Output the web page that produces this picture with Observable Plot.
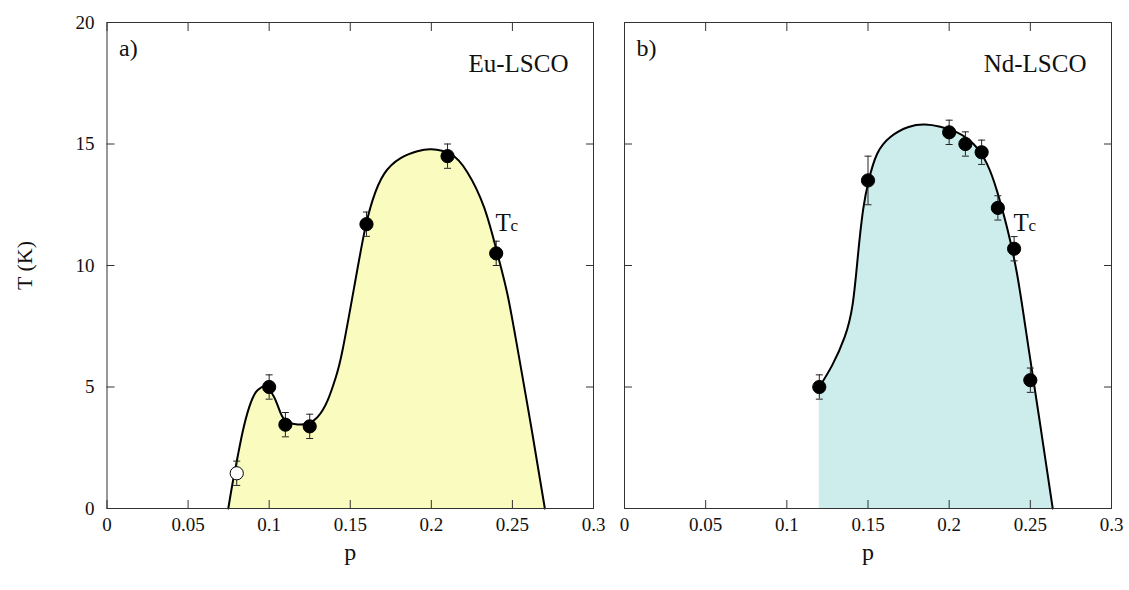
<!DOCTYPE html>
<html>
<head>
<meta charset="utf-8">
<script src="https://cdn.jsdelivr.net/npm/d3@7"></script>
<script src="https://cdn.jsdelivr.net/npm/@observablehq/plot@0.6"></script>
<style>
  html, body { margin: 0; padding: 0; background: #fff; }
  #wrap { position: relative; width: 1129px; height: 590px; overflow: hidden; }
  #wrap svg { position: absolute; top: 0; }
  #wrap svg, #wrap svg text, #wrap svg g { font-family: "Liberation Serif", "DejaVu Serif", serif !important; }
</style>
</head>
<body>
<div id="wrap"></div>
<script>
// ---- tick values ----
const xTicks = [0, 0.05, 0.1, 0.15, 0.2, 0.25, 0.3];
const xTickLabels = ["0", "0.05", "0.1", "0.15", "0.2", "0.25", "0.3"];
const yTicks = [0, 5, 10, 15, 20];
const yTickLabels = ["0", "5", "10", "15", "20"];

// ---- panel a: Eu-LSCO measured Tc ----
const euP   = [0.08, 0.10, 0.11, 0.125, 0.16, 0.21, 0.24];
const euT   = [1.45, 5.0, 3.45, 3.38, 11.7, 14.5, 10.5];
const euErr = [0.5, 0.5, 0.5, 0.5, 0.5, 0.5, 0.5];
const euOpen = [true, false, false, false, false, false, false];

// panel a: guide curve
const euCurveP = [0.0748, 0.0774, 0.0805, 0.0836, 0.0877, 0.0918, 0.0949, 0.0980, 0.1031, 0.1072,
                  0.1113, 0.1175, 0.1237, 0.1298, 0.1360, 0.1411, 0.1452, 0.1524, 0.1585, 0.1637,
                  0.1709, 0.1811, 0.1914, 0.2000, 0.2120, 0.2222, 0.2325, 0.2407, 0.2469, 0.2530,
                  0.2620, 0.2700];
const euCurveT = [0, 1.03, 2.11, 3.14, 4.17, 4.79, 4.97, 5.0, 4.58, 3.9,
                  3.55, 3.46, 3.49, 3.76, 4.44, 5.4, 6.5, 9.1, 11.3, 12.67,
                  13.77, 14.42, 14.7, 14.78, 14.58, 13.84, 12.4, 10.5, 8.83, 6.64,
                  3.2, 0];

// ---- panel b: Nd-LSCO measured Tc ----
const ndP   = [0.12, 0.15, 0.20, 0.21, 0.22, 0.23, 0.24, 0.25];
const ndT   = [5.0, 13.5, 15.48, 15.0, 14.66, 12.37, 10.69, 5.28];
const ndErr = [0.5, 1.0, 0.5, 0.5, 0.5, 0.5, 0.5, 0.5];

// panel b: guide curve
const ndCurveP = [0.1200, 0.1279, 0.1356, 0.1406, 0.1439, 0.1470, 0.1504, 0.1556, 0.1640, 0.1750,
                  0.1850, 0.1945, 0.2048, 0.2150, 0.2233, 0.2294, 0.2356, 0.2418, 0.2479, 0.2541,
                  0.2572, 0.2638];
const ndCurveT = [5.0, 5.89, 7.05, 8.43, 10.48, 12.3, 13.49, 14.59, 15.3, 15.7,
                  15.8, 15.71, 15.48, 15.0, 14.18, 13.08, 11.57, 9.66, 7.05, 4.32,
                  2.95, 0];

const panelLabels = ["a)", "b)"];
const sampleNames = ["Eu-LSCO", "Nd-LSCO"];
const xTitle = "p";
const yTitle = "T (K)";
const tcMain = "T";
const tcSub = "c";

const fillColors = ["#fafcbf", "#cdecec"];

// ---- build tables ----
const euPts = euP.map((p, i) => ({p, T: euT[i], e: euErr[i], open: euOpen[i]}));
const ndPts = ndP.map((p, i) => ({p, T: ndT[i], e: ndErr[i], open: false}));
const euCurve = euCurveP.map((p, i) => ({p, T: euCurveT[i]}));
const ndCurve = ndCurveP.map((p, i) => ({p, T: ndCurveT[i]}));

const capSymbol = { draw(ctx) { ctx.moveTo(-3.5, 0); ctx.lineTo(3.5, 0); } };
const FONT = "Liberation Serif";
const fmtX = d => xTickLabels[xTicks.indexOf(d)];
const fmtY = d => yTickLabels[yTicks.indexOf(d)];
const CURVE = "natural";

function panel({pts, curve, fill, panelLabel, name, showYLabels, width, marginLeft, marginRight}) {
  const marks = [
    Plot.areaY(curve, {x: "p", y: "T", curve: CURVE, fill}),
    Plot.line(curve, {x: "p", y: "T", curve: CURVE, stroke: "#000", strokeWidth: 2}),
    Plot.ruleX(pts, {x: "p", y1: d => d.T - d.e, y2: d => d.T + d.e, stroke: "#222", strokeWidth: 1}),
    Plot.dot(pts, {x: "p", y: d => d.T - d.e, symbol: capSymbol, stroke: "#222", strokeWidth: 1, fill: "none"}),
    Plot.dot(pts, {x: "p", y: d => d.T + d.e, symbol: capSymbol, stroke: "#222", strokeWidth: 1, fill: "none"}),
    Plot.dot(pts, {x: "p", y: "T", r: 6.6, fill: d => d.open ? "#fff" : "#000", stroke: "#000", strokeWidth: 1}),
    Plot.frame({stroke: "#333", strokeWidth: 1}),
    Plot.axisX(xTicks, {anchor: "bottom", tickSize: -8, tickPadding: 17, tickFormat: fmtX, label: null, stroke: "#333", fontFamily: FONT}),
    Plot.axisX(xTicks, {anchor: "top", tickSize: -8, tickFormat: () => "", label: null, stroke: "#333"}),
    Plot.axisY(yTicks, {anchor: "left", tickSize: -8, tickPadding: 20.5, tickFormat: showYLabels ? fmtY : () => "", label: null, stroke: "#333", fontFamily: FONT}),
    Plot.axisY(yTicks, {anchor: "right", tickSize: -8, tickFormat: () => "", label: null, stroke: "#333"}),
    Plot.text([panelLabel], {frameAnchor: "top-left", textAnchor: "start", lineAnchor: "bottom", dx: 12, dy: 33, fontSize: 24, fontFamily: FONT, fill: "#111"}),
    Plot.text([name], {frameAnchor: "top-right", textAnchor: "end", lineAnchor: "bottom", dx: -25, dy: 49, fontSize: 25, fontFamily: FONT, fill: "#111"}),
    Plot.text([tcMain], {x: () => 0.2396, y: () => 11.44, textAnchor: "start", lineAnchor: "bottom", fontSize: 25, fontFamily: FONT, fill: "#111"}),
    Plot.text([tcSub], {x: () => 0.2396, y: () => 11.44, textAnchor: "start", lineAnchor: "bottom", dx: 15, fontSize: 17, fontFamily: FONT, fill: "#111"}),
    Plot.text([xTitle], {frameAnchor: "bottom", textAnchor: "middle", lineAnchor: "bottom", dy: 51, fontSize: 24, fontFamily: FONT, fill: "#111"})
  ];
  if (showYLabels) {
    marks.push(Plot.text([yTitle], {frameAnchor: "left", rotate: -90, textAnchor: "middle", lineAnchor: "middle", dx: -82, fontSize: 22, fontFamily: FONT, fill: "#111"}));
  }
  return Plot.plot({
    width, height: 590,
    marginLeft, marginRight, marginTop: 22, marginBottom: 82,
    x: {domain: [0, 0.3]},
    y: {domain: [0, 20]},
    style: {fontFamily: FONT, fontSize: "19px", color: "#111", background: "transparent", overflow: "visible"},
    marks
  });
}

const wrap = document.getElementById("wrap");
const a = panel({pts: euPts, curve: euCurve, fill: fillColors[0], panelLabel: panelLabels[0], name: sampleNames[0],
                 showYLabels: true, width: 600, marginLeft: 106.5, marginRight: 7});
a.style.left = "0px";
wrap.appendChild(a);
const b = panel({pts: ndPts, curve: ndCurve, fill: fillColors[1], panelLabel: panelLabels[1], name: sampleNames[1],
                 showYLabels: false, width: 529, marginLeft: 24, marginRight: 18});
b.style.left = "600px";
wrap.appendChild(b);
</script>
</body>
</html>
